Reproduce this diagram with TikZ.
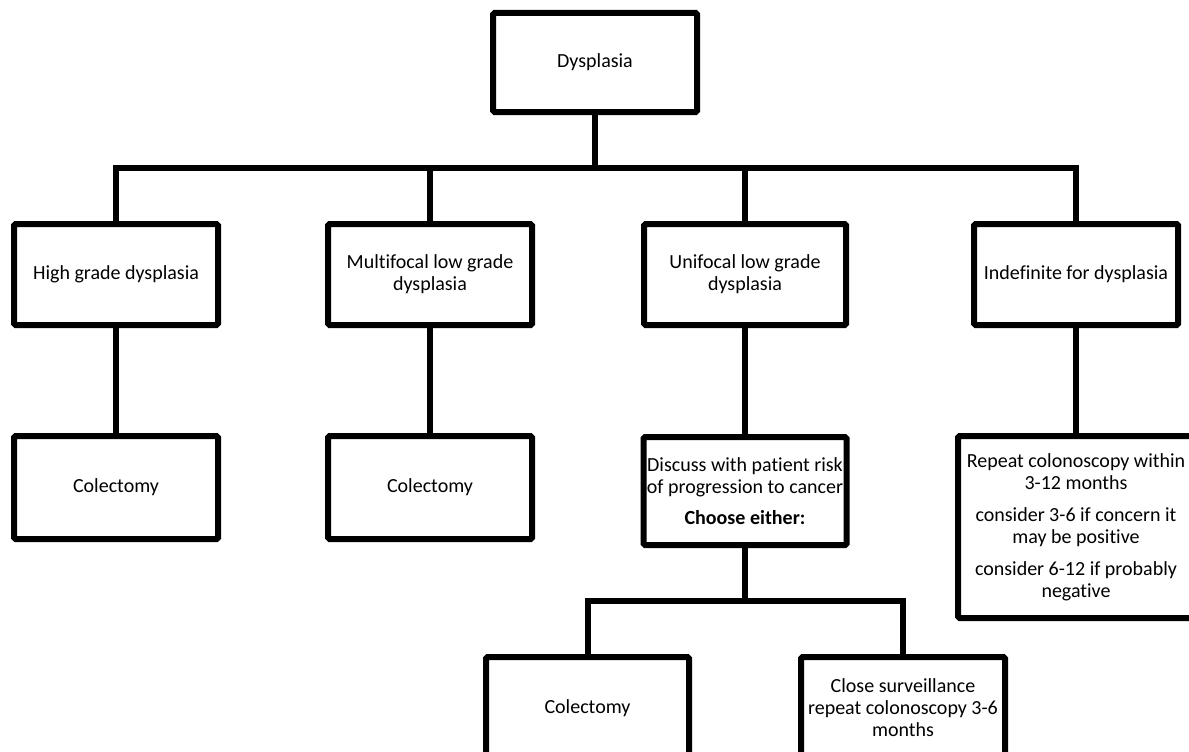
\documentclass[tikz,border=0pt]{standalone}
\usepackage{fontspec}
\setmainfont[Ligatures=CommonOff]{Carlito}
\tikzset{
  caja/.style={draw, line width=6pt, rounded corners=1.5pt, align=center, inner sep=0pt,
    font=\fontsize{20}{22}\selectfont, minimum width=204pt, minimum height=101pt},
  enlace/.style={line width=6pt}
}
\begin{document}
\begin{tikzpicture}[x=1pt,y=-1pt]
\clip (0,0) rectangle (1189,752);
% Nivel 1
\node[caja, minimum height=99pt] (dys) at (595,62.5) {Dysplasia};
% Nivel 2
\node[caja] (hg) at (116,274.5) {High grade dysplasia};
\node[caja] (multi) at (430,274.5) {Multifocal low grade\\dysplasia};
\node[caja, minimum width=202pt] (uni) at (745,274.5) {Unifocal low grade\\dysplasia};
\node[caja] (indef) at (1076,274.5) {Indefinite for dysplasia};
% Nivel 3
\node[caja, minimum height=103pt] (col1) at (116,487.5) {Colectomy};
\node[caja, minimum height=103pt] (col2) at (430,487.5) {Colectomy};
\node[caja, minimum width=203pt, minimum height=108pt] (disc) at (745,491)
  {Discuss with patient risk\\of progression to cancer\\[9pt]\textbf{Choose either:}};
\node[caja, minimum width=236pt, minimum height=182pt] (rep) at (1076,527)
  {Repeat colonoscopy within\\3-12 months\\[10pt]consider 3-6 if concern it\\may be positive\\[10pt]consider 6-12 if probably\\negative};
% Nivel 4
\node[caja, minimum width=203pt, minimum height=102pt] (col3) at (587.5,708) {Colectomy};
\node[caja, minimum width=204pt, minimum height=102pt] (surv) at (903,708)
  {Close surveillance\\repeat colonoscopy 3-6\\months};
% Conectores
\coordinate (bar1) at (595,168);
\coordinate (bar2) at (745,601);
\draw[enlace] (dys.south) -- (bar1);
\draw[enlace] (hg.north) |- (bar1) -| (indef.north);
\draw[enlace] (multi.north) -- (multi.north |- bar1);
\draw[enlace] (uni.north) -- (uni.north |- bar1);
\draw[enlace] (hg.south) -- (col1.north);
\draw[enlace] (multi.south) -- (col2.north);
\draw[enlace] (uni.south) -- (disc.north);
\draw[enlace] (indef.south) -- (rep.north);
\draw[enlace] (disc.south) -- (bar2);
\draw[enlace] (col3.north) |- (bar2) -| (surv.north);
\end{tikzpicture}
\end{document}
